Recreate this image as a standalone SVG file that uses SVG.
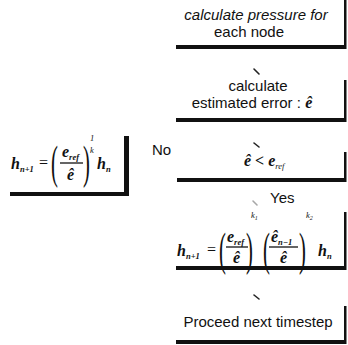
<svg xmlns="http://www.w3.org/2000/svg" width="348" height="345" viewBox="0 0 348 345">
<style>
.lbl{font-family:"Liberation Sans",Arial,sans-serif;font-size:15px;fill:#111}
.m{font-family:"Liberation Serif","Times New Roman",serif;font-style:italic;font-weight:bold;font-size:16px;fill:#111}
.mr{font-family:"Liberation Serif","Times New Roman",serif;font-size:16px;fill:#111}
.ms{font-family:"Liberation Serif","Times New Roman",serif;font-style:italic;font-size:8.5px;fill:#111}
.par{font-family:"Liberation Serif","Times New Roman",serif;font-size:46px;fill:#111}
.bar{stroke:#111;stroke-width:1.3}
.edge{fill:#111}
.tick{stroke:#222;stroke-width:1.6;stroke-linecap:round}
</style>
<rect width="348" height="345" fill="#fff"/>

<g id="connectors">
<line class="tick" x1="254" y1="69" x2="259" y2="74"/>
<line class="tick" x1="254" y1="143" x2="259" y2="147"/>
<line class="tick" x1="253" y1="201" x2="257" y2="205" stroke-opacity="0.4"/>
<line class="tick" x1="254" y1="295" x2="259" y2="299"/>
</g>

<g id="node-pressure">
<rect class="edge" x="176" y="45" width="170" height="4"/>
<rect class="edge" x="344" y="0" width="2.5" height="49"/>
<text class="lbl" x="256" y="20" text-anchor="middle" font-style="italic">calculate pressure for</text>
<text class="lbl" x="249" y="37" text-anchor="middle">each node</text>
</g>

<g id="node-error">
<rect class="edge" x="176" y="118" width="170" height="4"/>
<rect class="edge" x="344" y="80" width="2.5" height="42"/>
<text class="lbl" x="258" y="91" text-anchor="middle">calculate</text>
<text class="lbl" x="252" y="108" text-anchor="middle">estimated error : <tspan class="m" font-size="15">ê</tspan></text>
</g>

<g id="node-decision">
<rect class="edge" x="177" y="178" width="169" height="4"/>
<rect class="edge" x="344" y="152" width="2.5" height="30"/>
<text class="m" x="244" y="166" font-size="15">ê &lt; e<tspan font-size="8.5" font-weight="normal" dy="3">ref</tspan></text>
</g>

<g id="label-no">
<text class="lbl" x="152" y="155">No</text>
</g>
<g id="label-yes">
<text class="lbl" x="270" y="203">Yes</text>
</g>

<g id="node-update-no">
<rect class="edge" x="10" y="192" width="119" height="4"/>
<rect class="edge" x="124" y="136" width="5" height="60"/>
<text class="m" x="11" y="169">h<tspan class="ms" dy="3">n+1</tspan></text>
<text class="mr" x="39" y="168">=</text>
<text class="par" transform="translate(51,178) scale(0.45,1)">(</text>
<text class="m" x="62" y="157">e<tspan class="ms" dy="3">ref</tspan></text>
<line class="bar" x1="60" y1="163" x2="83" y2="163"/>
<text class="m" x="67" y="180">ê</text>
<text class="par" transform="translate(83,178) scale(0.45,1)">)</text>
<text class="ms" x="90" y="141" font-style="normal" font-size="7">1</text>
<text class="ms" x="90" y="153">k</text>
<text class="m" x="97" y="169">h<tspan class="ms" dy="3">n</tspan></text>
</g>

<g id="node-update-yes">
<rect class="edge" x="176" y="266" width="170" height="4"/>
<rect class="edge" x="344" y="212" width="2.5" height="58"/>
<text class="m" x="177" y="256">h<tspan class="ms" dy="3">n+1</tspan></text>
<text class="mr" x="207" y="255">=</text>
<text class="par" transform="translate(219,265) scale(0.45,1)">(</text>
<text class="m" x="227" y="242">e<tspan class="ms" dy="3">ref</tspan></text>
<line class="bar" x1="226" y1="247" x2="248" y2="247"/>
<text class="m" x="233" y="263">ê</text>
<text class="par" transform="translate(246,265) scale(0.45,1)">)</text>
<text class="ms" x="251" y="218">k<tspan font-size="6" dy="2">1</tspan></text>
<text class="par" transform="translate(263,265) scale(0.45,1)">(</text>
<text class="m" x="271" y="242">ê<tspan class="ms" dy="3">n−1</tspan></text>
<line class="bar" x1="269" y1="247" x2="298" y2="247"/>
<text class="m" x="280" y="263">ê</text>
<text class="par" transform="translate(299,265) scale(0.45,1)">)</text>
<text class="ms" x="306" y="218">k<tspan font-size="6" dy="2">2</tspan></text>
<text class="m" x="318" y="256">h<tspan class="ms" dy="3">n</tspan></text>
</g>

<g id="node-proceed">
<rect class="edge" x="176" y="340" width="170" height="4"/>
<rect class="edge" x="344" y="306" width="2.5" height="38"/>
<text class="lbl" x="258" y="327" text-anchor="middle">Proceed next timestep</text>
</g>
</svg>
